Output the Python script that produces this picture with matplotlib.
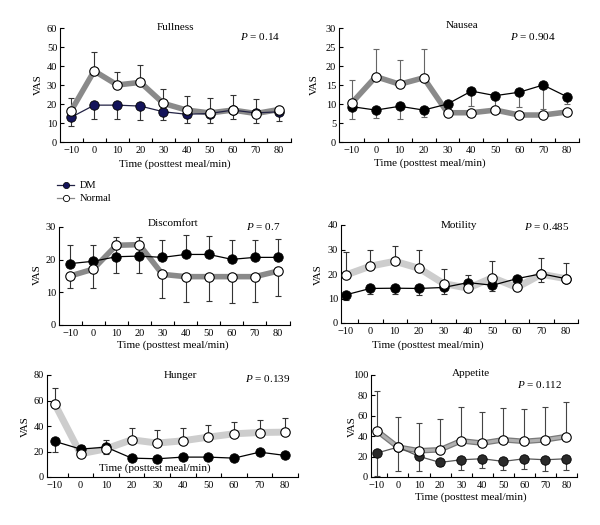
import numpy as np
import matplotlib
matplotlib.use('Agg')
from matplotlib import pyplot as plt
from matplotlib.lines import Line2D
import matplotlib.patheffects as pe

plt.rcParams['font.family'] = ['Liberation Serif', 'DejaVu Serif']
plt.rcParams['font.size'] = 7.5
plt.rcParams['mathtext.fontset'] = 'custom'
plt.rcParams['mathtext.it'] = 'Liberation Serif:italic'
plt.rcParams['mathtext.rm'] = 'Liberation Serif'

time = [-10, 0, 10, 20, 30, 40, 50, 60, 70, 80]
tick_labels = ['\u221210', '0', '10', '20', '30', '40', '50', '60', '70', '80']

# Fullness
full_dm = [13, 19.4, 19.4, 18.9, 15.9, 14.6, 15, 16.8, 15.3, 15.9]
full_dm_lo = [4.5, 7.4, 7.4, 7.4, 4.4, 4.4, 4.8, 4.8, 5.1, 5]
full_nm = [16.4, 37.4, 30, 31.4, 20.3, 16.8, 15.3, 16.8, 15, 17.1]
full_nm_hi = [6.5, 10.2, 7, 9.2, 7.6, 7.5, 7.6, 7.9, 7.6, 0]

# Nausea
naus_dm = [9.3, 8.4, 9.4, 8.4, 10, 13.4, 12.2, 13.1, 15, 11.9]
naus_dm_lo = [3.3, 2, 3.4, 1.8, 0, 4, 4, 3.8, 6.2, 2]
naus_nm = [10.3, 17.2, 15.2, 16.9, 7.7, 7.7, 8.4, 7.1, 7.1, 7.9]
naus_nm_hi = [6, 7.3, 6.4, 7.5, 0, 0, 0, 0, 0, 0]

# Discomfort
disc_dm = [18.8, 19.5, 20.9, 21.1, 20.7, 21.6, 21.6, 20.1, 20.7, 20.7]
disc_dm_hi = [5.6, 4.9, 5.9, 5.7, 5.2, 6.1, 5.6, 5.8, 5.2, 5.7]
disc_dm_lo = [0, 0, 5.1, 5.3, 0, 0, 0, 0, 0, 0]
disc_nm = [15, 17.1, 24.4, 24.6, 15.5, 14.8, 14.8, 14.8, 14.8, 16.5]
disc_nm_lo = [3.6, 5.8, 0, 0, 7.2, 7.7, 7.4, 8, 7.7, 7.5]

# Motility
mot_dm = [11.5, 14.1, 14.2, 14.1, 14.5, 16.5, 15.4, 18.1, 20.1, 18.1]
mot_dm_lo = [2, 2.3, 2.4, 2.6, 2.5, 0, 2.5, 0, 3.2, 0]
mot_nm = [19.6, 23.2, 25.2, 22.3, 16.1, 14.2, 18.5, 14.5, 19.9, 18.1]
mot_nm_hi = [9.3, 6.7, 6.1, 7.6, 5.8, 5.3, 6.7, 0, 6.7, 6.2]

# Hunger
hung_dm = [27.9, 21.9, 23.4, 14.8, 14.3, 15.6, 15.6, 14.8, 19.5, 16.9]
hung_dm_lo = [8.4, 0, 5.5, 0, 0, 0, 0, 0, 0, 0]
hung_nm = [57, 18.2, 22.1, 29.2, 26.6, 28.4, 31.3, 33.9, 34.9, 35.2]
hung_nm_hi = [12.5, 7.1, 7.1, 9.1, 9.9, 9.9, 9.6, 9.6, 9.9, 10.9]

# Appetite
app_dm = [23.5, 29.3, 20.2, 14.3, 16.9, 17.9, 15.3, 17.9, 16.9, 17.9]
app_dm_lo = [22.2, 23.8, 14.7, 3.9, 9.7, 9.1, 8.1, 10.1, 10.7, 10.7]
app_nm = [45.3, 29.3, 25.7, 26.7, 35.5, 33.2, 36.5, 34.9, 36.5, 39.7]
app_nm_hi = [39.4, 30, 27.1, 30, 33.6, 30.3, 30.9, 31.5, 31.9, 34.2]

W, H = 600, 525
fig = plt.figure(figsize=(6, 5.25), dpi=100)


def box(l, b, r, t):
    return [l / W, 1 - b / H, (r - l) / W, (b - t) / H]


def ptxt(x, y, s, **kw):
    fig.text(x / W, 1 - y / H, s, ha='center', va='center', **kw)


def panel(rect, xlim, ymax, ystep, dm, dm_lo, dm_hi, nm, nm_lo, nm_hi,
          nm_style, dm_face='black', dm_line='black', err_col='#333333'):
    ax = fig.add_axes(box(*rect))
    # error bars
    ax.errorbar(time, nm, yerr=[nm_lo, nm_hi], fmt='none', ecolor=err_col,
                elinewidth=0.8, capsize=2.2, capthick=0.8, zorder=1)
    ax.errorbar(time, dm, yerr=[dm_lo, dm_hi], fmt='none', ecolor=err_col,
                elinewidth=0.8, capsize=2.2, capthick=0.8, zorder=1)
    # lines
    if nm_style == 'dark':
        ax.plot(time, nm, color='#8a8a8a', lw=4, zorder=2, solid_capstyle='round')
    elif nm_style == 'light':
        ax.plot(time, nm, color='#cdcdcd', lw=5, zorder=2, solid_capstyle='round')
    else:
        ax.plot(time, nm, color='#b0b0b0', lw=2.2, zorder=2,
                path_effects=[pe.Stroke(linewidth=4, foreground='#7a7a7a'), pe.Normal()])
    ax.plot(time, dm, color=dm_line, lw=0.9, zorder=3)
    ax.plot(time, dm, 'o', ms=6.8, mfc=dm_face, mec='black', mew=0.6, zorder=4)
    ax.plot(time, nm, 'o', ms=6.8, mfc='white', mec='black', mew=0.8, zorder=5)

    ax.set_xlim(*xlim)
    ax.set_ylim(0, ymax)
    ax.set_xticks(time)
    ax.set_xticklabels(tick_labels)
    ax.set_xticks(np.arange(-5, 90, 10), minor=True)
    ax.set_yticks(np.arange(0, ymax + 1, ystep))
    ax.tick_params(axis='x', which='major', length=0, pad=3, labelsize=7.5)
    ax.tick_params(axis='x', which='minor', direction='in', length=3, width=0.8)
    ax.tick_params(axis='y', direction='in', length=3, width=0.8, pad=2, labelsize=7.5)
    for s in ['top', 'right']:
        ax.spines[s].set_visible(False)
    for s in ['left', 'bottom']:
        ax.spines[s].set_linewidth(0.8)
    return ax


zero = [0] * len(time)

panel((60, 142, 291, 28), (-14.8, 85.2), 60, 10,
      full_dm, full_dm_lo, zero, full_nm, zero, full_nm_hi, 'dark',
      dm_face='#14145a', dm_line='#222244')
ptxt(175, 27, 'Fullness', fontsize=8)
ptxt(260, 37, r'$P$ = 0.14', fontsize=8)
ptxt(175, 164, 'Time (posttest meal/min)', fontsize=8)
ptxt(38, 85, 'VAS', fontsize=8, rotation=90)

panel((339, 142, 579, 28), (-15.4, 84.6), 30, 5,
      naus_dm, naus_dm_lo, zero, naus_nm, zero, naus_nm_hi, 'dark', err_col='#666666')
ptxt(462, 25, 'Nausea', fontsize=8)
ptxt(533, 36, r'$P$ = 0.904', fontsize=8)
ptxt(430, 163, 'Time (posttest meal/min)', fontsize=8)
ptxt(314, 85, 'VAS', fontsize=8, rotation=90)

panel((59, 325, 290, 227), (-14.8, 85.2), 30, 10,
      disc_dm, disc_dm_lo, disc_dm_hi, disc_nm, disc_nm_lo, zero, 'dark')
ptxt(173, 223, 'Discomfort', fontsize=8)
ptxt(263, 226, r'$P$ = 0.7', fontsize=8)
ptxt(173, 345, 'Time (posttest meal/min)', fontsize=8)
ptxt(37, 275, 'VAS', fontsize=8, rotation=90)

panel((341, 323, 578, 225), (-12, 84.1), 40, 10,
      mot_dm, mot_dm_lo, zero, mot_nm, zero, mot_nm_hi, 'light')
ptxt(459, 226, 'Motility', fontsize=8)
ptxt(547, 226, r'$P$ = 0.485', fontsize=8)
ptxt(428, 345, 'Time (posttest meal/min)', fontsize=8)
ptxt(318, 275, 'VAS', fontsize=8, rotation=90)

panel((47, 477, 298, 375), (-13.1, 83.9), 80, 20,
      hung_dm, hung_dm_lo, zero, hung_nm, zero, hung_nm_hi, 'light')
ptxt(180, 376, 'Hunger', fontsize=8)
ptxt(268, 379, r'$P$ = 0.139', fontsize=8)
ptxt(155, 468, 'Time (posttest meal/min)', fontsize=8)
ptxt(25, 427, 'VAS', fontsize=8, rotation=90)

panel((371, 477, 577, 375), (-12.8, 84.7), 100, 20,
      app_dm, app_dm_lo, zero, app_nm, zero, app_nm_hi, 'outline',
      dm_face='#2a2a2a', dm_line='#555555', err_col='#444444')
ptxt(471, 373, 'Appetite', fontsize=8)
ptxt(540, 385, r'$P$ = 0.112', fontsize=8)
ptxt(471, 497, 'Time (posttest meal/min)', fontsize=8)
ptxt(352, 427, 'VAS', fontsize=8, rotation=90)

# legend
handles = [Line2D([], [], color='#222244', lw=0.9, marker='o', ms=4.5,
                  mfc='#14145a', mec='black', mew=0.5),
           Line2D([], [], color='#888888', lw=0.9, marker='o', ms=4.5,
                  mfc='white', mec='black', mew=0.6)]
fig.legend(handles, ['DM', 'Normal'], loc='upper left', bbox_to_anchor=(52 / W, 1 - 176 / H),
           frameon=False, fontsize=7.5, handlelength=1.6, handletextpad=0.6,
           labelspacing=0.35, borderpad=0)

plt.savefig('out.png', dpi=100)
